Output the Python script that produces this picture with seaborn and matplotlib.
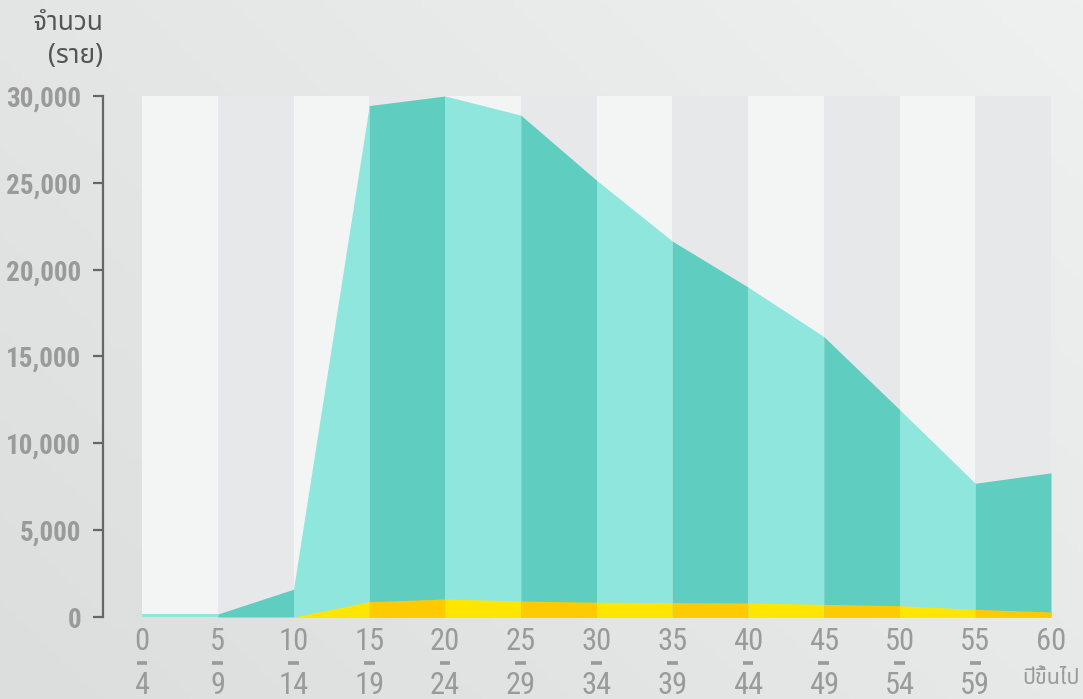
import numpy as np
import seaborn as sns
import matplotlib.pyplot as plt

# age groups (lower bound of each group) and counts
age_starts = [0, 5, 10, 15, 20, 25, 30, 35, 40, 45, 50, 55, 60]
age_ends = ["4", "9", "14", "19", "24", "29", "34", "39", "44", "49", "54", "59", "ปีขึ้นไป"]
total_cases = [170, 170, 1600, 29450, 30000, 28900, 25150, 21650, 19000, 16150, 11950, 7700, 8300]
small_cases = [0, 0, 0, 880, 1040, 920, 850, 830, 810, 730, 650, 440, 290]
y_ticks = [0, 5000, 10000, 15000, 20000, 25000, 30000]

band_colors = ["#f3f4f4", "#e7e8e9"]
teal_colors = ["#8ee6dd", "#5fcdc0"]
yellow_colors = ["#ffe600", "#ffcb00"]

sns.set_theme(style="white")
thai = ["Noto Sans Thai", "Noto Sans Thai Looped", "Tlwg Typo", "Loma", "Garuda", "DejaVu Sans"]
narrow = ["Roboto Condensed", "Roboto", "DejaVu Sans"]
plt.rcParams["font.family"] = thai

fig = plt.figure(figsize=(10.83, 6.99), dpi=100)

# soft gray gradient background
bg = fig.add_axes([0, 0, 1, 1], zorder=-10)
gx, gy = np.meshgrid(np.linspace(0, 1, 200), np.linspace(0, 1, 200))
grad = 0.6 * gx + 0.4 * (1 - gy)
bg.imshow(grad, cmap=sns.blend_palette(["#dcdddd", "#eff0f0"], as_cmap=True),
          aspect="auto", extent=[0, 1, 0, 1], origin="upper")
bg.axis("off")

ax = fig.add_axes([142 / 1083, 1 - 617 / 699, 909 / 1083, 521 / 699])
ax.patch.set_alpha(0)

for i in range(len(age_starts) - 1):
    x0, x1 = age_starts[i], age_starts[i + 1]
    ax.axvspan(x0, x1, color=band_colors[i % 2], lw=0, zorder=0)
    xs = [x0, x1]
    ax.fill_between(xs, 0, total_cases[i:i + 2], color=teal_colors[i % 2], lw=0, zorder=1)
    if age_starts[i] >= 10:
        ax.fill_between(xs, 0, small_cases[i:i + 2], color=yellow_colors[i % 2], lw=0, zorder=2)

ax.set_xlim(0, 60)
ax.set_ylim(0, 30000)

sns.despine(ax=ax, bottom=True)
ax.spines["left"].set_position(("outward", 28))
ax.spines["left"].set_color("#666666")
ax.spines["left"].set_linewidth(1.6)

ax.set_yticks(y_ticks)
ax.set_yticklabels([f"{v:,}" for v in y_ticks], fontsize=19.5, fontweight="bold",
                   color="#9a9a9a", family=narrow)
ax.tick_params(axis="y", length=7, width=1.6, color="#666666", pad=9, left=True)

# age-group labels: start, short bar, end
ax.set_xticks(age_starts)
ax.set_xticklabels([])
ax.tick_params(axis="x", length=0)
xt = ax.get_xaxis_transform()
for a, b in zip(age_starts, age_ends):
    ax.annotate(str(a), (a, 0), xycoords=xt, xytext=(0, -24), textcoords="offset pixels",
                ha="center", va="center", fontsize=22, color="#9a9a9a", family=narrow)
    if a < 60:
        ax.plot([a - 0.36, a + 0.36], [-46 / 521, -46 / 521], transform=xt,
                clip_on=False, color="#9a9a9a", lw=2.6, solid_capstyle="butt")
        ax.annotate(b, (a, 0), xycoords=xt, xytext=(0, -68), textcoords="offset pixels",
                    ha="center", va="center", fontsize=22, color="#9a9a9a", family=narrow)
    else:
        ax.annotate(b, (a, 0), xycoords=xt, xytext=(0, -61), textcoords="offset pixels",
                    ha="center", va="center", fontsize=15.5, color="#9a9a9a")

fig.text(103 / 1083, 1 - 9 / 699, "จำนวน\n(ราย)", ha="right", va="top",
         fontsize=19, color="#555555", linespacing=1.25)

fig.savefig("out.png", dpi=100)
